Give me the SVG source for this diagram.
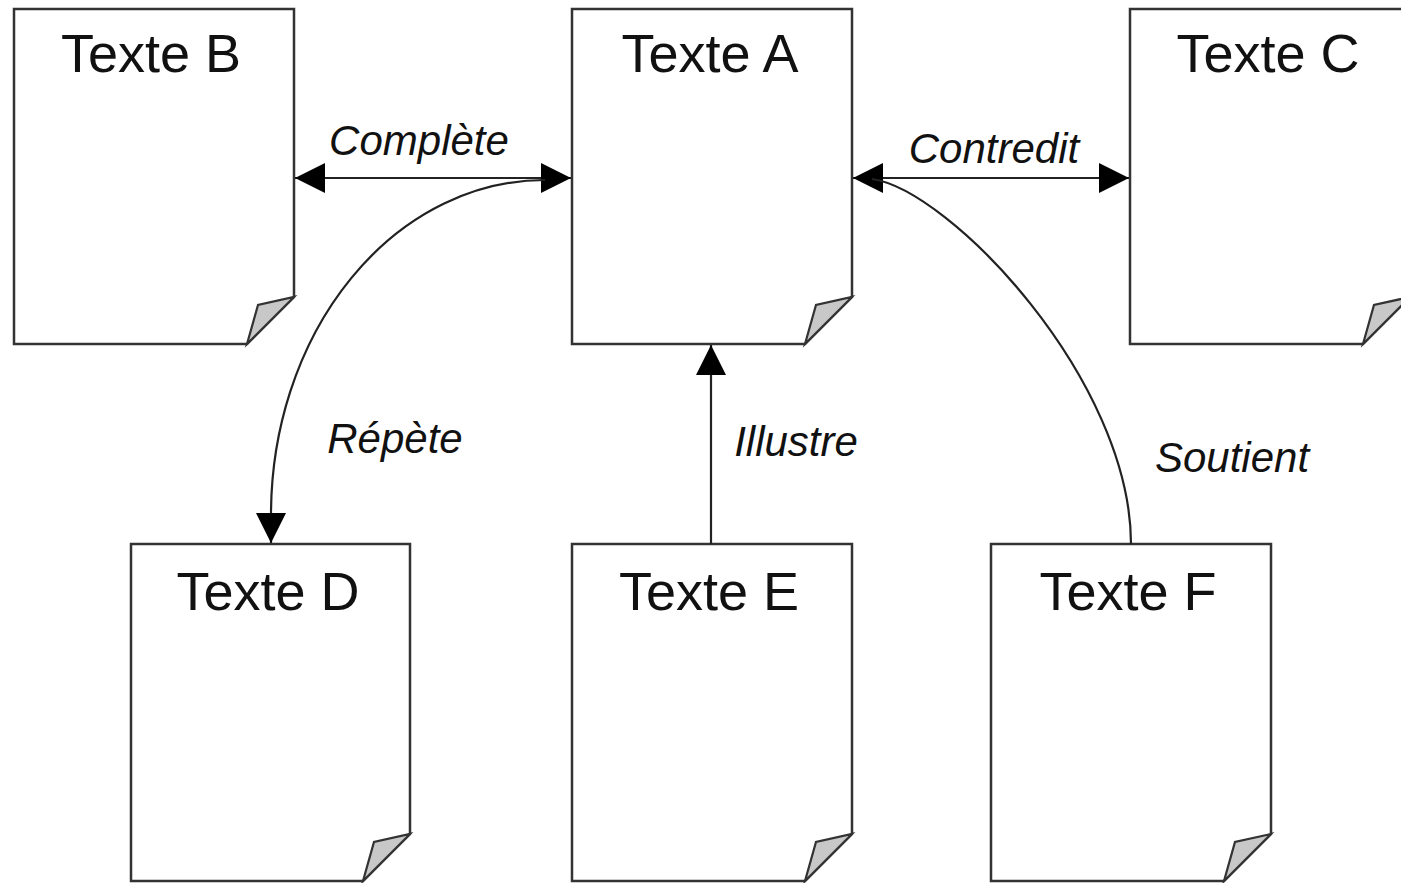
<svg xmlns="http://www.w3.org/2000/svg" width="1401" height="883" viewBox="0 0 1401 883">
<style>
.page{fill:#fff;stroke:#333;stroke-width:2.5}
.fold{fill:#c8c8c8;stroke:#333;stroke-width:2.2}
.title{font-family:"Liberation Sans",Arial,sans-serif;font-size:54px;fill:#111;text-anchor:middle}
.lbl{font-family:"Liberation Sans",Arial,sans-serif;font-size:42px;font-style:italic;fill:#111;text-anchor:middle}
.conn{fill:none;stroke:#222;stroke-width:2.2}
</style>
<defs>
<marker id="arr" viewBox="0 0 30 30" refX="30" refY="15" markerWidth="30" markerHeight="30" markerUnits="userSpaceOnUse" orient="auto-start-reverse">
<path d="M0,0 L30,15 L0,30 Z" fill="#000"/>
</marker>
</defs>
<rect width="1401" height="883" fill="#fff"/>
<g id="nodeB">
<path class="page" d="M14,9 H294 V297 L247,344 H14 Z"/>
<path class="fold" d="M247,344 L258,305 L294,297 Z"/>
<text class="title" x="151" y="72">Texte B</text>
</g>
<g id="nodeA">
<path class="page" d="M572,9 H852 V297 L805,344 H572 Z"/>
<path class="fold" d="M805,344 L816,305 L852,297 Z"/>
<text class="title" x="710" y="72">Texte A</text>
</g>
<g id="nodeC">
<path class="page" d="M1130,9 H1410 V297 L1363,344 H1130 Z"/>
<path class="fold" d="M1363,344 L1374,305 L1410,297 Z"/>
<text class="title" x="1268" y="72">Texte C</text>
</g>
<g id="nodeD">
<path class="page" d="M131,544 H410 V834 L363,881 H131 Z"/>
<path class="fold" d="M363,881 L374,842 L410,834 Z"/>
<text class="title" x="268" y="610">Texte D</text>
</g>
<g id="nodeE">
<path class="page" d="M572,544 H852 V834 L805,881 H572 Z"/>
<path class="fold" d="M805,881 L816,842 L852,834 Z"/>
<text class="title" x="709" y="610">Texte E</text>
</g>
<g id="nodeF">
<path class="page" d="M991,544 H1271 V834 L1224,881 H991 Z"/>
<path class="fold" d="M1224,881 L1235,842 L1271,834 Z"/>
<text class="title" x="1128" y="610">Texte F</text>
</g>
<g id="connectors">
<path class="conn" d="M295,178 H571" marker-start="url(#arr)" marker-end="url(#arr)"/>
<path class="conn" d="M853,178 H1129" marker-start="url(#arr)" marker-end="url(#arr)"/>
<path class="conn" d="M545,180 A274,335 0 0 0 271,515 L271,543" marker-end="url(#arr)"/>
<path class="conn" d="M711,544 V345" marker-end="url(#arr)"/>
<path class="conn" d="M872,179 C950,190 1131,380 1131,544"/>
<text class="lbl" x="419" y="155">Complète</text>
<text class="lbl" x="994" y="163">Contredit</text>
<text class="lbl" x="395" y="453">Répète</text>
<text class="lbl" x="796" y="456">Illustre</text>
<text class="lbl" x="1232" y="472">Soutient</text>
</g>
</svg>
